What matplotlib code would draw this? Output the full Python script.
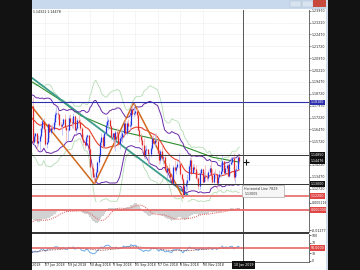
import matplotlib
matplotlib.use("Agg")
import matplotlib.pyplot as plt
from matplotlib.patches import Rectangle
import numpy as np
import pandas as pd

# EURUSD daily, 2 Apr - 13 Jun 2018 (off screen, only warms up the indicators)
warmup_closes = [1.2302, 1.2268, 1.2277, 1.2238, 1.2281, 1.2320, 1.2355, 1.2369, 1.2326, 1.2330,
                 1.2380, 1.2371, 1.2374, 1.2347, 1.2288, 1.2210, 1.2232, 1.2164, 1.2103, 1.2130,
                 1.2078,
                 1.1992, 1.1951, 1.1989, 1.1960, 1.1922, 1.1865, 1.1849, 1.1916, 1.1940,
                 1.1925, 1.1837, 1.1808, 1.1796, 1.1770, 1.1791, 1.1779, 1.1694, 1.1720,
                 1.1655, 1.1623, 1.1538, 1.1664, 1.1693, 1.1659, 1.1694, 1.1718, 1.1775,
                 1.1799, 1.1769, 1.1782, 1.1780, 1.1794]

# visible bars, 14 Jun 2018 - 8 Jan 2019
closes = [
    1.1568, 1.1608, 1.1623, 1.1562, 1.1571, 1.1608, 1.1655, 1.1700, 1.1647, 1.1553, 1.1570, 1.1684,
    1.1632, 1.1654, 1.1652, 1.1693, 1.1747, 1.1748, 1.1741, 1.1673, 1.1671, 1.1684, 1.1710, 1.1659,
    1.1641, 1.1642, 1.1720, 1.1691, 1.1685, 1.1731, 1.1643, 1.1657, 1.1704, 1.1691,
    1.1658, 1.1584, 1.1568, 1.1551, 1.1598, 1.1610, 1.1525, 1.1411, 1.1405, 1.1345, 1.1343, 1.1377,
    1.1438, 1.1478, 1.1569, 1.1597, 1.1539, 1.1624, 1.1677, 1.1698, 1.1708, 1.1669, 1.1601,
    1.1622, 1.1583, 1.1630, 1.1624, 1.1553, 1.1594, 1.1600, 1.1627, 1.1690, 1.1624, 1.1686, 1.1669,
    1.1672, 1.1778, 1.1744, 1.1749, 1.1765, 1.1739, 1.1640, 1.1606,
    1.1577, 1.1549, 1.1477, 1.1516, 1.1524, 1.1490, 1.1490, 1.1528, 1.1594, 1.1560, 1.1580, 1.1576,
    1.1500, 1.1453, 1.1511, 1.1463, 1.1470, 1.1389, 1.1376, 1.1402, 1.1374, 1.1346, 1.1310,
    1.1408, 1.1388, 1.1407, 1.1430, 1.1431, 1.1363, 1.1335, 1.1225, 1.1290, 1.1307, 1.1328, 1.1416,
    1.1456, 1.1374, 1.1407, 1.1398, 1.1340, 1.1337, 1.1289, 1.1369, 1.1395, 1.1315,
    1.1352, 1.1343, 1.1342, 1.1375, 1.1405, 1.1357, 1.1314, 1.1367, 1.1363, 1.1306, 1.1347, 1.1362,
    1.1381, 1.1449, 1.1372, 1.1402, 1.1420, 1.1354, 1.1430, 1.1440, 1.1467,
    1.1346, 1.1393, 1.1395, 1.1474, 1.1447]
highs = [
    1.1852, 1.1627, 1.1625, 1.1624, 1.1609, 1.1618, 1.1676, 1.1720, 1.1719, 1.1674, 1.1592, 1.1690,
    1.1686, 1.1674, 1.1680, 1.1720, 1.1760, 1.1791, 1.1768, 1.1746, 1.1694, 1.1688, 1.1721, 1.1745,
    1.1668, 1.1654, 1.1738, 1.1747, 1.1719, 1.1748, 1.1739, 1.1670, 1.1718, 1.1746,
    1.1713, 1.1665, 1.1618, 1.1575, 1.1609, 1.1620, 1.1612, 1.1533, 1.1433, 1.1428, 1.1350, 1.1395,
    1.1448, 1.1495, 1.1579, 1.1622, 1.1609, 1.1628, 1.1696, 1.1733, 1.1720, 1.1719, 1.1676,
    1.1627, 1.1623, 1.1644, 1.1654, 1.1643, 1.1609, 1.1646, 1.1646, 1.1700, 1.1721, 1.1700, 1.1714,
    1.1700, 1.1788, 1.1803, 1.1815, 1.1783, 1.1790, 1.1751, 1.1655,
    1.1624, 1.1596, 1.1593, 1.1540, 1.1547, 1.1523, 1.1502, 1.1547, 1.1608, 1.1610, 1.1622, 1.1621,
    1.1583, 1.1511, 1.1526, 1.1550, 1.1494, 1.1492, 1.1434, 1.1411, 1.1434, 1.1387, 1.1366,
    1.1420, 1.1456, 1.1415, 1.1445, 1.1500, 1.1448, 1.1374, 1.1339, 1.1312, 1.1327, 1.1362, 1.1425,
    1.1473, 1.1470, 1.1425, 1.1428, 1.1422, 1.1386, 1.1345, 1.1389, 1.1402, 1.1401,
    1.1380, 1.1420, 1.1370, 1.1392, 1.1424, 1.1444, 1.1399, 1.1385, 1.1398, 1.1374, 1.1367, 1.1391,
    1.1440, 1.1486, 1.1450, 1.1421, 1.1430, 1.1425, 1.1447, 1.1475, 1.1470,
    1.1497, 1.1398, 1.1419, 1.1483, 1.1486]
lows = [
    1.1563, 1.1541, 1.1573, 1.1508, 1.1541, 1.1508, 1.1593, 1.1630, 1.1631, 1.1541, 1.1527, 1.1562,
    1.1591, 1.1615, 1.1637, 1.1639, 1.1676, 1.1726, 1.1715, 1.1666, 1.1650, 1.1614, 1.1677, 1.1652,
    1.1575, 1.1574, 1.1634, 1.1683, 1.1655, 1.1656, 1.1640, 1.1622, 1.1647, 1.1680,
    1.1646, 1.1579, 1.1548, 1.1529, 1.1543, 1.1574, 1.1515, 1.1409, 1.1366, 1.1343, 1.1301, 1.1339,
    1.1372, 1.1421, 1.1474, 1.1550, 1.1529, 1.1533, 1.1612, 1.1671, 1.1642, 1.1653, 1.1582,
    1.1573, 1.1530, 1.1510, 1.1588, 1.1545, 1.1526, 1.1572, 1.1565, 1.1600, 1.1616, 1.1611, 1.1644,
    1.1646, 1.1663, 1.1730, 1.1723, 1.1735, 1.1721, 1.1637, 1.1570,
    1.1556, 1.1506, 1.1463, 1.1462, 1.1487, 1.1431, 1.1432, 1.1474, 1.1515, 1.1553, 1.1544, 1.1561,
    1.1490, 1.1431, 1.1432, 1.1454, 1.1431, 1.1387, 1.1369, 1.1336, 1.1363, 1.1333, 1.1300,
    1.1305, 1.1375, 1.1366, 1.1400, 1.1400, 1.1355, 1.1318, 1.1216, 1.1224, 1.1260, 1.1265, 1.1320,
    1.1396, 1.1360, 1.1369, 1.1383, 1.1331, 1.1319, 1.1267, 1.1269, 1.1362, 1.1306,
    1.1324, 1.1319, 1.1322, 1.1321, 1.1358, 1.1335, 1.1311, 1.1308, 1.1340, 1.1268, 1.1300, 1.1339,
    1.1355, 1.1370, 1.1360, 1.1365, 1.1385, 1.1345, 1.1345, 1.1419, 1.1425,
    1.1324, 1.1309, 1.1355, 1.1392, 1.1425]

# slow green MA (bar offset, price)
green_bars = [0, 20, 34, 55, 70, 85, 105, 128, 147]
green_vals = [1.1946, 1.1832, 1.1735, 1.1655, 1.1620, 1.1590, 1.1547, 1.1471, 1.1440]

# zigzag pivots and the trend line
zz_bars = [-5, 44, 72, 107]
zz_vals = [1.1840, 1.1301, 1.1815, 1.1216]
trend_bars = [0, 110]
trend_vals = [1.1970, 1.1235]

# horizontal lines drawn on the chart
hline_blue = 1.1818
hlines_black = [1.1485, 1.1300]
hline_red = 1.1226
bid = 1.14476

price_ticks = [1.2397 - 0.0075 * k for k in range(16)]
time_bars = [-7, 9, 25, 41, 57, 73, 89, 105, 121]
time_labels = ["5 Jun 2018", "27 Jun 2018", "19 Jul 2018", "10 Aug 2018", "3 Sep 2018",
               "25 Sep 2018", "17 Oct 2018", "8 Nov 2018", "30 Nov 2018"]
vline_bar = 150
vline_label = "10 Jan 2019"

# ---------------------------------------------------------------
W, H = 360, 270
fig = plt.figure(figsize=(3.6, 2.7), dpi=100)
fig.patch.set_facecolor("white")


def px_axes(x0, y0, x1, y1):
    return fig.add_axes([x0 / W, 1 - y1 / H, (x1 - x0) / W, (y1 - y0) / H])


PX = 1.406                 # pixels per bar
X0 = 32.5                  # pixel of bar 0
xlim = ((32 - X0) / PX, (309 - X0) / PX)

n = len(closes)
x = np.arange(n)
all_close = pd.Series(warmup_closes + closes, index=np.arange(-len(warmup_closes), n))
c = np.array(closes)
o = np.array([warmup_closes[-1]] + closes[:-1])
hi = np.array(highs)
lo = np.array(lows)

mid = all_close.rolling(20).mean()
sd = all_close.rolling(20).std(ddof=0)
ema12 = all_close.ewm(span=12, adjust=False).mean()
ema26 = all_close.ewm(span=26, adjust=False).mean()
macd = ema12 - ema26
signal = macd.rolling(9).mean()
delta = all_close.diff()
gain = delta.clip(lower=0).ewm(alpha=1 / 14, adjust=False).mean()
loss = (-delta.clip(upper=0)).ewm(alpha=1 / 14, adjust=False).mean()
rsi = 100 - 100 / (1 + gain / loss)
rsi_ma = rsi.rolling(20).mean()

grid_kw = dict(color="#dedede", lw=0.4, ls=(0, (1, 1)))
lab_kw = dict(fontsize=2.3, color="#222222")

# ---- main window
ax = px_axes(32, 9.5, 309, 202)
ax.set_xlim(*xlim)
ax.set_ylim(1.2397 - (202 - 10.7) * 0.000632, 1.2397 + 1.2 * 0.000632)
for t in price_ticks:
    ax.axhline(t, **grid_kw, zorder=0)
for b in time_bars:
    ax.axvline(b, **grid_kw, zorder=0)

ax.plot(all_close.index, mid + 3 * sd, color="#b5dcb5", lw=0.6)
ax.plot(all_close.index, mid - 3 * sd, color="#b5dcb5", lw=0.6)
ax.plot(green_bars, green_vals, color="#2f8f2f", lw=0.8)
ax.plot(trend_bars, trend_vals, color="#3c9c8c", lw=1.3)
ax.plot(all_close.index, mid + 2 * sd, color="#6a2aa8", lw=0.7)
ax.plot(all_close.index, mid - 2 * sd, color="#6a2aa8", lw=0.7)
ax.plot(all_close.index, mid, color="#e8402a", lw=0.8)
ax.plot(zz_bars, zz_vals, color="#d2691e", lw=1.1)

up = c >= o
ax.vlines(x[up], lo[up], hi[up], color="#a9b0f5", lw=0.5)
ax.vlines(x[~up], lo[~up], hi[~up], color="#f5a9a9", lw=0.5)
ax.vlines(x[up], o[up], c[up], color="#2233e0", lw=0.9)
ax.vlines(x[~up], o[~up], c[~up], color="#e02b2b", lw=0.9)

ax.axhline(hline_blue, color="#2e2eb0", lw=0.8)
for h in hlines_black:
    ax.axhline(h, color="#333333", lw=0.7)
ax.axhline(hline_red, color="#e88080", lw=1.4)

ax.yaxis.tick_right()
ax.set_yticks(price_ticks)
ax.set_yticklabels([f"{t:.5f}" for t in price_ticks], **lab_kw)
ax.tick_params(axis="y", length=1.2, width=0.4, pad=0.8, color="#444444")
ax.set_xticks([])
for s in ["left", "top", "bottom"]:
    ax.spines[s].set_visible(False)
ax.spines["right"].set_color("#555555")
ax.spines["right"].set_linewidth(0.6)
ax.text(0.003, 0.997, "1.14321 1.14478", transform=ax.transAxes, ha="left", va="top", **lab_kw)

ytr = ax.get_yaxis_transform()
for val, fc in [(hline_blue, "#2e2eb0"), (hlines_black[0], "#111111"), (bid, "#111111"),
                (hlines_black[1], "#111111"), (hline_red, "#e04848")]:
    ax.text(1.006, val, f"{val:.5f}", transform=ytr, ha="left", va="center", fontsize=2.3,
            color="white", clip_on=False,
            bbox=dict(boxstyle="square,pad=0.25", fc=fc, ec="none"))

# ---- MACD window
ax2 = px_axes(32, 202, 309, 232)
ax2.set_xlim(*xlim)
ax2.set_ylim(-0.0137, 0.0051)
for b in time_bars:
    ax2.axvline(b, **grid_kw, zorder=0)
ax2.bar(all_close.index, macd, width=1.0, color="#d2d2d2", zorder=1)
ax2.plot(all_close.index, signal, color="#e06a6a", lw=0.75, ls=(0, (1, 1)), zorder=2)
ax2.axhline(0, color="#e86a6a", lw=1.3, zorder=3)
ax2.yaxis.tick_right()
ax2.set_yticks([0.0045, -0.0127])
ax2.set_yticklabels(["0.005116", "-0.01277"], **lab_kw)
ax2.tick_params(axis="y", length=1.2, width=0.4, pad=0.8)
ax2.set_xticks([])
for s in ["left", "top", "bottom"]:
    ax2.spines[s].set_visible(False)
ax2.spines["right"].set_color("#555555")
ax2.spines["right"].set_linewidth(0.6)
ax2.text(1.006, 0, "0.000000", transform=ax2.get_yaxis_transform(), ha="left", va="center",
         fontsize=2.3, color="white", clip_on=False,
         bbox=dict(boxstyle="square,pad=0.25", fc="#e04848", ec="none"))

# ---- RSI window
ax3 = px_axes(32, 234, 309, 262)
ax3.set_xlim(*xlim)
ax3.set_ylim(-5.1, 105.1)
for b in time_bars:
    ax3.axvline(b, **grid_kw, zorder=0)
ax3.plot(all_close.index, rsi, color="#6aaae8", lw=0.7)
ax3.plot(all_close.index, rsi_ma, color="#8a3a3a", lw=0.6, ls=(0, (1, 1)))
ax3.axhline(50, color="#e86a6a", lw=1.2)
ax3.yaxis.tick_right()
ax3.set_yticks([100, 70, 30, 0])
ax3.set_yticklabels(["100", "70", "30", "0"], **lab_kw)
ax3.tick_params(axis="y", length=1.2, width=0.4, pad=0.8)
ax3.set_xticks(time_bars[1:])
ax3.set_xticklabels([])
ax3.tick_params(axis="x", length=1.2, width=0.4)
for s in ["left", "top"]:
    ax3.spines[s].set_visible(False)
for s in ["right", "bottom"]:
    ax3.spines[s].set_color("#555555")
    ax3.spines[s].set_linewidth(0.6)
ax3.text(1.006, 50, "50.0000", transform=ax3.get_yaxis_transform(), ha="left", va="center",
         fontsize=2.3, color="white", clip_on=False,
         bbox=dict(boxstyle="square,pad=0.25", fc="#e04848", ec="none"))
xtr = ax3.get_xaxis_transform()
for b, lab in zip(time_bars, time_labels):
    ax3.text(b, -0.12, lab, transform=xtr, ha="left", va="center", clip_on=False, **lab_kw)
ax3.text(vline_bar, -0.12, vline_label, transform=xtr, ha="center", va="center", fontsize=2.3,
         color="white", clip_on=False,
         bbox=dict(boxstyle="square,pad=0.6", fc="#111111", ec="none"))

# vertical line through all windows
for a in (ax, ax2, ax3):
    a.axvline(vline_bar, color="#555555", lw=0.7)

# ---- window chrome, in pixel coordinates
ov = fig.add_axes([0, 0, 1, 1])
ov.set_xlim(0, W)
ov.set_ylim(H, 0)
ov.axis("off")
ov.add_patch(Rectangle((32, 232), 277, 2, fc="#3a3a3a", ec="none"))
ov.add_patch(Rectangle((32, 201.6), 277, 0.8, fc="#9a9a9a", ec="none"))
ov.add_patch(Rectangle((32, 0), 295, 9, fc="#c8d9ee", ec="none"))
ov.add_patch(Rectangle((290, 0.5), 11, 6, fc="#d9e4f1", ec="#aab8c8", lw=0.3))
ov.add_patch(Rectangle((301.5, 0.5), 11, 6, fc="#d9e4f1", ec="#aab8c8", lw=0.3))
ov.add_patch(Rectangle((313, 0), 13, 7, fc="#c84a3c", ec="none"))
ov.add_patch(Rectangle((325.5, 0), 2, 270, fc="#cfdbea", ec="none"))
ov.add_patch(Rectangle((0, 0), 32, 270, fc="#121212", ec="none"))
ov.add_patch(Rectangle((327.5, 0), 33, 270, fc="#121212", ec="none"))
# tooltip of the horizontal line and the move cursor
ov.add_patch(Rectangle((242, 185), 42, 12, fc="#f6f6f6", ec="#9a9a9a", lw=0.4))
ov.text(244.5, 188.5, "Horizontal Line 7829", fontsize=2.3, color="#333333", va="center")
ov.text(244.5, 194, "1.13005", fontsize=2.3, color="#333333", va="center")
ov.plot([246], [162], marker="+", ms=4, mew=0.8, color="#111111")

fig.savefig("out.png", dpi=100)
